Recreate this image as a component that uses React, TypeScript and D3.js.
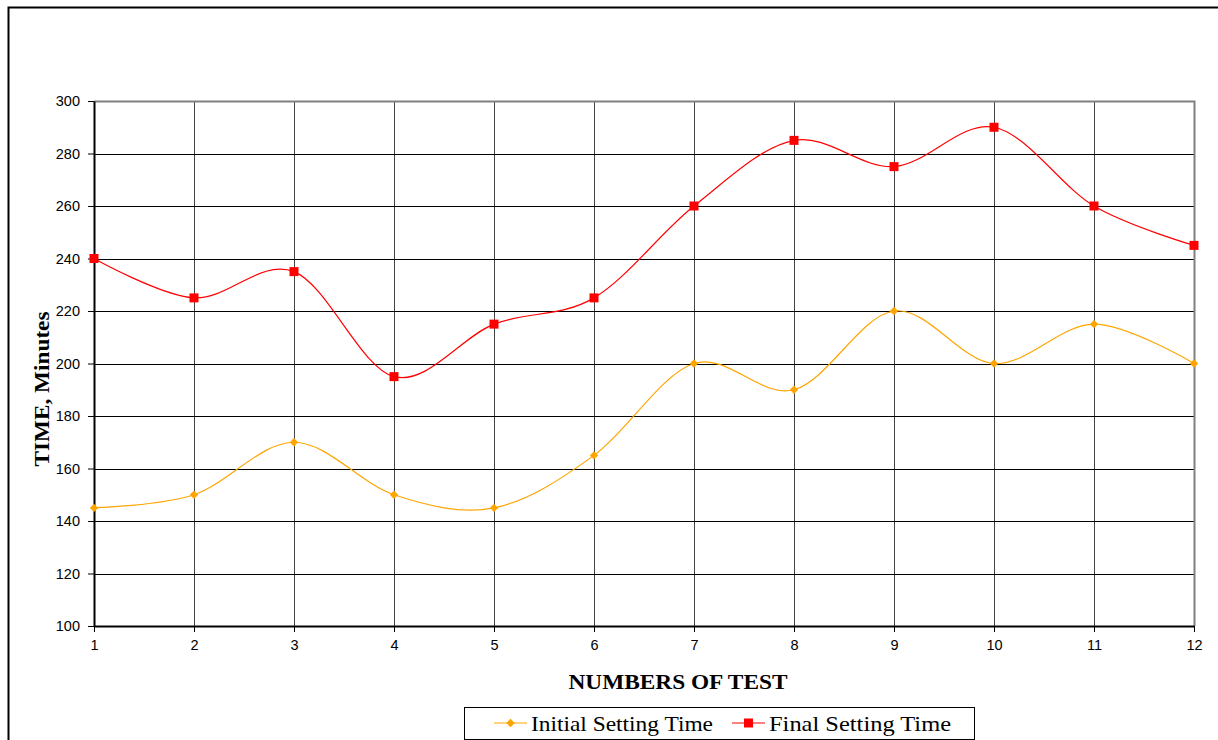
import React, { useEffect, useRef } from "react";
import * as d3 from "d3";

const tests = [1, 2, 3, 4, 5, 6, 7, 8, 9, 10, 11, 12];
const initialSetting = [145, 150, 170, 150, 145, 165, 200, 190, 220, 200, 215, 200];
const finalSetting = [240, 225, 235, 195, 215, 225, 260, 285, 275, 290, 260, 245];
const yTicks = [100, 120, 140, 160, 180, 200, 220, 240, 260, 280, 300];

const ORANGE = "#FFA500";
const RED = "#FF0000";
const SERIF = "'Times New Roman', 'Liberation Serif', serif";
const SANS = "Arial, 'Liberation Sans', sans-serif";

const App: React.FC = () => {
  const svgRef = useRef<SVGSVGElement>(null);

  useEffect(() => {
    if (!svgRef.current) return;
    const svg = d3.select(svgRef.current);
    svg.selectAll("*").remove();

    const left = 94;
    const right = 1194;
    const top = 101;
    const bottom = 626;

    // outer chart frame
    svg
      .append("path")
      .attr("d", "M8.5,740 L8.5,7.5 L1218,7.5")
      .attr("fill", "none")
      .attr("stroke", "#000")
      .attr("stroke-width", 2);

    const x = d3.scaleLinear().domain([1, 12]).range([left, right]);
    const y = d3.scaleLinear().domain([100, 300]).range([bottom, top]);

    // grid
    const grid = svg.append("g");
    grid
      .selectAll("line.v")
      .data(tests.slice(1, -1))
      .enter()
      .append("line")
      .attr("x1", (d) => x(d) + 0.5)
      .attr("x2", (d) => x(d) + 0.5)
      .attr("y1", top)
      .attr("y2", bottom)
      .attr("stroke", "#444")
      .attr("stroke-width", 1);
    grid
      .selectAll("line.h")
      .data(yTicks.slice(1, -1))
      .enter()
      .append("line")
      .attr("x1", left)
      .attr("x2", right)
      .attr("y1", (d) => Math.round(y(d)) + 0.5)
      .attr("y2", (d) => Math.round(y(d)) + 0.5)
      .attr("stroke", "#000")
      .attr("stroke-width", 1);

    // plot border: top/right gray
    svg
      .append("path")
      .attr("d", `M${left},${top + 0.5} L${right + 0.5},${top + 0.5} L${right + 0.5},${bottom}`)
      .attr("fill", "none")
      .attr("stroke", "#808080")
      .attr("stroke-width", 2);

    // axes
    const yAxis = svg
      .append("g")
      .attr("transform", `translate(${left},0)`)
      .call(d3.axisLeft(y).tickValues(yTicks).tickSize(6).tickPadding(8).tickSizeOuter(0));
    yAxis.select(".domain").attr("stroke", "#000").attr("stroke-width", 2);
    yAxis.selectAll("text").style("font-family", SANS).style("font-size", "14.5px").attr("fill", "#000");

    const xAxis = svg
      .append("g")
      .attr("transform", `translate(0,${bottom})`)
      .call(d3.axisBottom(x).tickValues(tests).tickFormat(d3.format("d")).tickSize(6).tickPadding(8).tickSizeOuter(0));
    xAxis.select(".domain").attr("stroke", "#000").attr("stroke-width", 2);
    xAxis.selectAll("text").style("font-family", SANS).style("font-size", "14.5px").attr("fill", "#000");

    const line = d3
      .line<number>()
      .x((_, i) => x(tests[i]))
      .y((d) => y(d))
      .curve(d3.curveCatmullRom.alpha(0));

    svg
      .append("path")
      .datum(initialSetting)
      .attr("d", line)
      .attr("fill", "none")
      .attr("stroke", ORANGE)
      .attr("stroke-width", 1.2);
    svg
      .append("path")
      .datum(finalSetting)
      .attr("d", line)
      .attr("fill", "none")
      .attr("stroke", RED)
      .attr("stroke-width", 1.2);

    const diamond = d3.symbol().type(d3.symbolDiamond2).size(45);
    svg
      .selectAll("path.init")
      .data(initialSetting)
      .enter()
      .append("path")
      .attr("d", diamond)
      .attr("transform", (d, i) => `translate(${x(tests[i])},${y(d)})`)
      .attr("fill", ORANGE);

    svg
      .selectAll("rect.final")
      .data(finalSetting)
      .enter()
      .append("rect")
      .attr("x", (_, i) => x(tests[i]) - 4.5)
      .attr("y", (d) => y(d) - 4.5)
      .attr("width", 9)
      .attr("height", 9)
      .attr("fill", RED);

    // axis titles
    svg
      .append("text")
      .attr("transform", `translate(49,389) rotate(-90)`)
      .attr("text-anchor", "middle")
      .attr("textLength", 155)
      .attr("lengthAdjust", "spacingAndGlyphs")
      .style("font-family", SERIF)
      .style("font-weight", "bold")
      .style("font-size", "21px")
      .text("TIME, Minutes");

    svg
      .append("text")
      .attr("x", 678)
      .attr("y", 689)
      .attr("text-anchor", "middle")
      .attr("textLength", 219)
      .attr("lengthAdjust", "spacingAndGlyphs")
      .style("font-family", SERIF)
      .style("font-weight", "bold")
      .style("font-size", "22px")
      .text("NUMBERS OF TEST");

    // legend
    const legend = svg.append("g");
    legend
      .append("rect")
      .attr("x", 464.5)
      .attr("y", 707.5)
      .attr("width", 510)
      .attr("height", 32)
      .attr("fill", "#fff")
      .attr("stroke", "#000");

    const items = [
      { label: "Initial Setting Time", color: ORANGE, x0: 494, shape: "diamond" },
      { label: "Final Setting Time", color: RED, x0: 732, shape: "square" },
    ];
    items.forEach((it) => {
      const g = legend.append("g");
      g.append("line")
        .attr("x1", it.x0)
        .attr("x2", it.x0 + 33)
        .attr("y1", 723)
        .attr("y2", 723)
        .attr("stroke", it.color)
        .attr("stroke-width", 1.2);
      if (it.shape === "diamond") {
        g.append("path")
          .attr("d", diamond)
          .attr("transform", `translate(${it.x0 + 16.5},723)`)
          .attr("fill", it.color);
      } else {
        g.append("rect")
          .attr("x", it.x0 + 12)
          .attr("y", 718.5)
          .attr("width", 9)
          .attr("height", 9)
          .attr("fill", it.color);
      }
      g.append("text")
        .attr("x", it.x0 + 37)
        .attr("y", 731)
        .attr("textLength", 182)
        .attr("lengthAdjust", "spacingAndGlyphs")
        .style("font-family", SERIF)
        .style("font-size", "21px")
        .text(it.label);
    });
  }, []);

  return (
    <svg
      ref={svgRef}
      width={1218}
      height={740}
      style={{ position: "absolute", left: 0, top: 0, background: "#fff" }}
    />
  );
};

export default App;
